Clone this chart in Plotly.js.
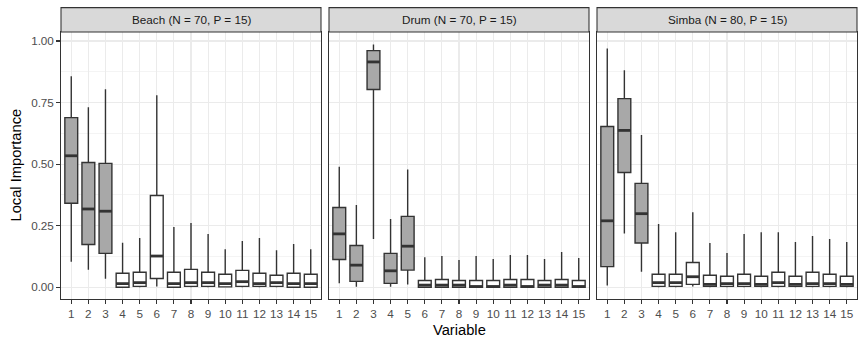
<!DOCTYPE html>
<html>
<head>
<meta charset="utf-8">
<script src="https://cdn.plot.ly/plotly-3.0.1.min.js"></script>
<style>html,body{margin:0;padding:0;background:#fff;}#chart{width:864px;height:343px;}</style>
</head>
<body>
<div id="chart"></div>
<script>
// ---- data ----
const variables = [1,2,3,4,5,6,7,8,9,10,11,12,13,14,15];
const tickLabels = ["1","2","3","4","5","6","7","8","9","10","11","12","13","14","15"];
const panelTitles = ["Beach (N = 70, P = 15)", "Drum (N = 70, P = 15)", "Simba (N = 80, P = 15)"];

// Beach
const beachLow  = [0.104,0.071,0.035,0.000,0.000,0.003,0.000,0.000,0.000,0.000,0.000,0.000,0.000,0.000,0.000];
const beachQ1   = [0.341,0.174,0.138,0.000,0.004,0.036,0.000,0.004,0.004,0.002,0.004,0.004,0.004,0.000,0.000];
const beachMed  = [0.534,0.318,0.309,0.015,0.019,0.127,0.015,0.019,0.019,0.015,0.023,0.015,0.019,0.015,0.015];
const beachQ3   = [0.689,0.507,0.503,0.057,0.061,0.373,0.061,0.073,0.061,0.053,0.069,0.057,0.049,0.057,0.053];
const beachHigh = [0.857,0.731,0.804,0.181,0.200,0.780,0.245,0.261,0.216,0.155,0.188,0.200,0.151,0.176,0.155];
const beachSelected = [1,1,1,0,0,0,0,0,0,0,0,0,0,0,0];

// Drum
const drumLow  = [0.017,0.002,0.196,0.002,0.011,0.000,0.000,0.000,0.000,0.000,0.000,0.000,0.000,0.000,0.000];
const drumQ1   = [0.113,0.024,0.803,0.016,0.070,0.000,0.000,0.000,0.000,0.000,0.000,0.000,0.000,0.000,0.000];
const drumMed  = [0.217,0.090,0.915,0.067,0.167,0.009,0.009,0.009,0.003,0.003,0.009,0.003,0.009,0.009,0.003];
const drumQ3   = [0.324,0.170,0.961,0.138,0.288,0.028,0.032,0.028,0.028,0.028,0.032,0.032,0.028,0.032,0.028];
const drumHigh = [0.489,0.334,0.986,0.277,0.478,0.122,0.127,0.111,0.127,0.115,0.131,0.131,0.115,0.143,0.119];
const drumSelected = [1,1,1,1,1,0,0,0,0,0,0,0,0,0,0];

// Simba
const simbaLow  = [0.007,0.219,0.063,0.000,0.000,0.003,0.000,0.000,0.000,0.000,0.000,0.000,0.000,0.000,0.000];
const simbaQ1   = [0.084,0.466,0.180,0.004,0.004,0.012,0.004,0.004,0.004,0.004,0.004,0.004,0.004,0.004,0.004];
const simbaMed  = [0.270,0.637,0.299,0.019,0.019,0.043,0.012,0.015,0.015,0.012,0.019,0.012,0.015,0.015,0.012];
const simbaQ3   = [0.653,0.766,0.422,0.053,0.053,0.101,0.049,0.045,0.053,0.045,0.061,0.045,0.061,0.053,0.045];
const simbaHigh = [0.970,0.881,0.618,0.257,0.224,0.305,0.180,0.139,0.216,0.224,0.224,0.184,0.208,0.196,0.184];
const simbaSelected = [1,1,1,0,0,0,0,0,0,0,0,0,0,0,0];

// ---- build ----
const panels = [
  {low:beachLow, q1:beachQ1, med:beachMed, q3:beachQ3, high:beachHigh, sel:beachSelected},
  {low:drumLow,  q1:drumQ1,  med:drumMed,  q3:drumQ3,  high:drumHigh,  sel:drumSelected},
  {low:simbaLow, q1:simbaQ1, med:simbaMed, q3:simbaQ3, high:simbaHigh, sel:simbaSelected}
];
const BOXW = 0.75;
const DARK = '#333333';
const traces = [];
panels.forEach((p, k) => {
  const xa = k === 0 ? 'x' : 'x' + (k+1);
  const ya = k === 0 ? 'y' : 'y' + (k+1);
  [1, 0].forEach(flag => {
    const idx = variables.map((v,i)=>i).filter(i => p.sel[i] === flag);
    traces.push({
      type:'box', xaxis:xa, yaxis:ya,
      x: idx.map(i=>variables[i]),
      q1: idx.map(i=>p.q1[i]), median: idx.map(i=>p.med[i]), q3: idx.map(i=>p.q3[i]),
      lowerfence: idx.map(i=>p.low[i]), upperfence: idx.map(i=>p.high[i]),
      width: BOXW, whiskerwidth: 0, boxpoints:false,
      fillcolor: flag ? '#A8A8A8' : '#FFFFFF',
      line:{color:DARK, width:1.4},
      hoverinfo:'skip', showlegend:false
    });
  });
  // thicker median segments (ggplot fatten)
  const mx = [], my = [];
  variables.forEach((v,i) => { mx.push(v-BOXW/2, v+BOXW/2, null); my.push(p.med[i], p.med[i], null); });
  traces.push({type:'scatter', mode:'lines', xaxis:xa, yaxis:ya, x:mx, y:my,
    line:{color:DARK, width:2.8}, hoverinfo:'skip', showlegend:false});
});

const W = 864, H = 343, ML = 61, MR = 7, MT = 32, MB = 44;
const PW = W - ML - MR, PH = H - MT - MB;
const panelW = 260, gap = 8;
const tickFont = {family:'Liberation Sans, Arial, sans-serif', size:11.7, color:'#4D4D4D'};
function xAxis(k){
  const d0 = (k*(panelW+gap))/PW, d1 = Math.min(1,(k*(panelW+gap)+panelW)/PW);
  return {domain:[d0,d1], anchor: k===0?'y':'y'+(k+1), range:[0.4,15.6],
    tickmode:'array', tickvals:variables, ticktext:tickLabels,
    ticks:'outside', ticklen:3.7, tickwidth:1.07, tickcolor:DARK,
    showgrid:true, gridcolor:'#EBEBEB', gridwidth:1.07, zeroline:false,
    showline:true, mirror:true, linecolor:DARK, linewidth:1.07,
    tickfont:tickFont, fixedrange:true};
}
function yAxis(k){
  const a = {anchor: k===0?'x':'x'+(k+1), domain:[0,1], range:[-0.0474,1.0365],
    tickmode:'array', tickvals:[0,0.25,0.5,0.75,1], ticktext:['0.00','0.25','0.50','0.75','1.00'],
    showgrid:true, gridcolor:'#EBEBEB', gridwidth:1.07, zeroline:false,
    minor:{tickmode:'array', tickvals:[0.125,0.375,0.625,0.875], showgrid:true, gridcolor:'#EBEBEB', gridwidth:0.53, ticks:''},
    showline:true, mirror:true, linecolor:DARK, linewidth:1.07,
    tickfont:tickFont, fixedrange:true};
  if (k===0){ a.ticks='outside'; a.ticklen=3.7; a.tickwidth=1.07; a.tickcolor=DARK; }
  else { a.showticklabels=false; a.ticks=''; a.matches='y'; }
  return a;
}
const stripH = 24.4/PH;
const shapes = [], annotations = [];
panelTitles.forEach((t,k) => {
  const xr = (k===0?'x':'x'+(k+1)) + ' domain';
  shapes.push({type:'rect', xref:xr, yref:'paper', x0:0, x1:1, y0:1, y1:1+stripH,
    fillcolor:'#D9D9D9', line:{color:DARK, width:1.07}, layer:'above'});
  annotations.push({text:t, xref:xr, yref:'paper', x:0.5, y:1+stripH/2, xanchor:'center', yanchor:'middle',
    showarrow:false, font:{family:'Liberation Sans, Arial, sans-serif', size:11.7, color:'#1A1A1A'}});
});
annotations.push({text:'Variable', xref:'paper', yref:'paper', x:0.5, y:(299-330)/PH, xanchor:'center', yanchor:'middle',
  showarrow:false, font:{family:'Liberation Sans, Arial, sans-serif', size:14.7, color:'#000000'}});
annotations.push({text:'Local Importance', xref:'paper', yref:'paper', x:(15-ML)/PW, y:0.5, xanchor:'center', yanchor:'middle',
  textangle:-90, showarrow:false, font:{family:'Liberation Sans, Arial, sans-serif', size:14.7, color:'#000000'}});

const layout = {
  width:W, height:H, margin:{l:ML, r:MR, t:MT, b:MB, pad:0},
  paper_bgcolor:'#FFFFFF', plot_bgcolor:'#FFFFFF',
  boxmode:'overlay', showlegend:false,
  font:{family:'Liberation Sans, Arial, sans-serif'},
  xaxis:xAxis(0), xaxis2:xAxis(1), xaxis3:xAxis(2),
  yaxis:yAxis(0), yaxis2:yAxis(1), yaxis3:yAxis(2),
  shapes:shapes, annotations:annotations
};
Plotly.newPlot('chart', traces, layout, {displayModeBar:false, staticPlot:true});
</script>
</body>
</html>
